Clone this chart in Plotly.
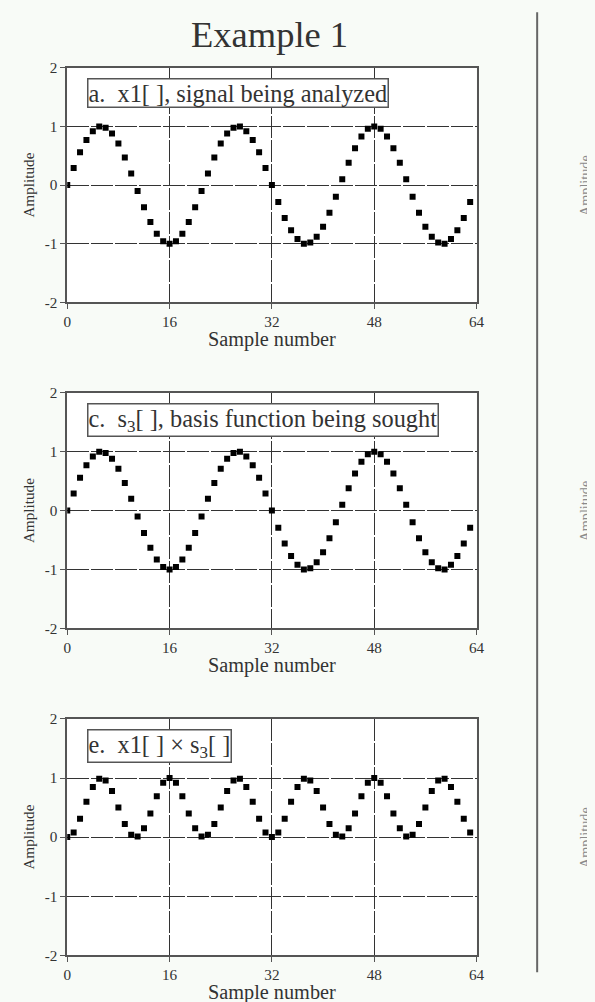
import plotly.graph_objects as go

# ---- data ----
sample_n = list(range(64))
x1_signal = [0.00, 0.29, 0.56, 0.77, 0.92, 1.00, 0.98, 0.88, 0.71, 0.47, 0.20, -0.10,
             -0.38, -0.63, -0.83, -0.96, -1.00, -0.96, -0.83, -0.63, -0.38, -0.10, 0.20, 0.47,
             0.71, 0.88, 0.98, 1.00, 0.92, 0.77, 0.56, 0.29, 0.00, -0.29, -0.56, -0.77,
             -0.92, -1.00, -0.98, -0.88, -0.71, -0.47, -0.20, 0.10, 0.38, 0.63, 0.83, 0.96,
             1.00, 0.96, 0.83, 0.63, 0.38, 0.10, -0.20, -0.47, -0.71, -0.88, -0.98, -1.00,
             -0.92, -0.77, -0.56, -0.29]
s3_basis = [0.00, 0.29, 0.56, 0.77, 0.92, 1.00, 0.98, 0.88, 0.71, 0.47, 0.20, -0.10,
            -0.38, -0.63, -0.83, -0.96, -1.00, -0.96, -0.83, -0.63, -0.38, -0.10, 0.20, 0.47,
            0.71, 0.88, 0.98, 1.00, 0.92, 0.77, 0.56, 0.29, 0.00, -0.29, -0.56, -0.77,
            -0.92, -1.00, -0.98, -0.88, -0.71, -0.47, -0.20, 0.10, 0.38, 0.63, 0.83, 0.96,
            1.00, 0.96, 0.83, 0.63, 0.38, 0.10, -0.20, -0.47, -0.71, -0.88, -0.98, -1.00,
            -0.92, -0.77, -0.56, -0.29]
product_x1_s3 = [0.00, 0.08, 0.31, 0.60, 0.85, 0.99, 0.96, 0.78, 0.50, 0.22, 0.04, 0.01,
                 0.15, 0.40, 0.69, 0.92, 1.00, 0.92, 0.69, 0.40, 0.15, 0.01, 0.04, 0.22,
                 0.50, 0.78, 0.96, 0.99, 0.85, 0.60, 0.31, 0.08, 0.00, 0.08, 0.31, 0.60,
                 0.85, 0.99, 0.96, 0.78, 0.50, 0.22, 0.04, 0.01, 0.15, 0.40, 0.69, 0.92,
                 1.00, 0.92, 0.69, 0.40, 0.15, 0.01, 0.04, 0.22, 0.50, 0.78, 0.96, 0.99,
                 0.85, 0.60, 0.31, 0.08]
x_ticks = [0, 16, 32, 48, 64]
y_ticks = [-2, -1, 0, 1, 2]
y_tick_labels = ["-2", "-1", "0", "1", "2"]
panel_labels = ["a.  x1[ ], signal being analyzed",
                "c.  s<sub>3</sub>[ ], basis function being sought",
                "e.  x1[ ] × s<sub>3</sub>[ ]"]
series = [x1_signal, s3_basis, product_x1_s3]

# layout helpers: target positions are given in picture pixels and mapped to
# the page (the photo is slightly scaled/shifted relative to the page)
S, OX, OY, MARGIN = 0.986, 0.5, 7.0, 8
W, H = 587, 1000
FONT = "Liberation Serif"
BG = "#f8fbf7"
panels_ref = [(66, 301), (392, 628), (719, 956)]
x_left, x_right = 64, 476


def px(xr):
    return ((xr - OX) / S - MARGIN) / W


def py(yr):
    return 1 - ((yr - OY) / S - MARGIN) / H


def fs(size):
    return size / S


fig = go.Figure()
annotations = []
for i, (vals, (top, bot)) in enumerate(zip(series, panels_ref)):
    k = "" if i == 0 else str(i + 1)
    fig.add_trace(go.Scatter(
        x=sample_n, y=vals, mode="markers",
        marker=dict(symbol="square", size=6, color="black"),
        xaxis="x" + k, yaxis="y" + k, showlegend=False, hoverinfo="skip"))
    common = dict(showline=True, mirror=True, linecolor="#555", linewidth=1.5,
                  showgrid=True, gridcolor="#333", gridwidth=1, griddash="22px,2px",
                  zeroline=False, ticks="outside", ticklen=5, tickcolor="#555",
                  tickfont=dict(family=FONT, size=fs(15), color="#333"))
    fig.update_layout(**{
        "xaxis" + k: dict(domain=[px(x_left), px(x_right)], range=[0, 64],
                          tickvals=x_ticks, anchor="y" + k, **common),
        "yaxis" + k: dict(domain=[py(bot), py(top)], range=[-2, 2],
                          tickvals=y_ticks, ticktext=y_tick_labels, anchor="x" + k,
                          title=dict(text="Amplitude", standoff=6,
                                     font=dict(family=FONT, size=fs(15), color="#333")),
                          **common),
    })
    annotations.append(dict(
        text="Sample number", xref="paper", yref="paper",
        x=px((x_left + x_right) / 2), y=py(bot + 37), xanchor="center", yanchor="middle",
        showarrow=False, font=dict(family=FONT, size=fs(20), color="#333")))
    annotations.append(dict(
        text=panel_labels[i], xref="paper", yref="paper",
        x=px(84), y=py(top + 10), xanchor="left", yanchor="top",
        showarrow=False, align="left",
        font=dict(family=FONT, size=fs(24), color="#333"),
        bordercolor="#555", borderwidth=1.5, borderpad=0, bgcolor="white"))
    annotations.append(dict(
        text="Amplitude", xref="paper", yref="paper",
        x=px(585), y=py((top + bot) / 2), xanchor="center", yanchor="middle",
        textangle=-90, showarrow=False,
        font=dict(family=FONT, size=fs(14), color="#8a8a8a")))

annotations.append(dict(
    text="Example 1", xref="paper", yref="paper", x=px(268), y=py(32),
    xanchor="center", yanchor="middle", showarrow=False,
    font=dict(family=FONT, size=fs(36), color="#333")))

fig.update_layout(
    width=W, height=H, autosize=False,
    margin=dict(l=0, r=0, t=0, b=0),
    paper_bgcolor=BG, plot_bgcolor="white",
    annotations=annotations,
    shapes=[dict(type="line", xref="paper", yref="paper",
                 x0=px(537), x1=px(537), y0=py(10), y1=py(973),
                 line=dict(color="#666", width=2))],
)

fig.write_html("out.html", config={"displayModeBar": False},
               post_script="document.body.style.background='%s';" % BG)
